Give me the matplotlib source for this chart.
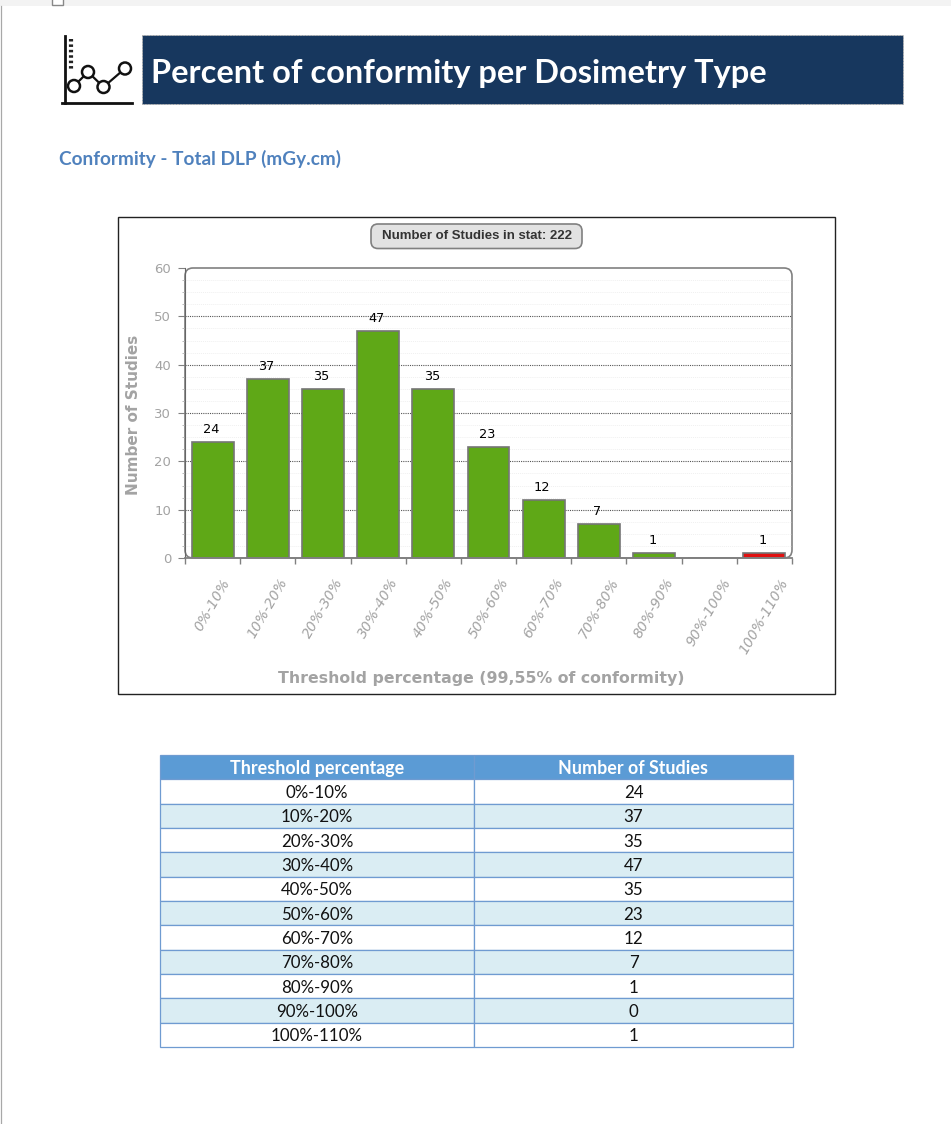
import matplotlib
matplotlib.use('Agg')
import numpy as np
import matplotlib.pyplot as plt
from matplotlib.patches import FancyBboxPatch, Rectangle, Circle
from matplotlib.transforms import Affine2D

W, H = 951, 1124

# Data
thresholds = ['0%-10%', '10%-20%', '20%-30%', '30%-40%', '40%-50%', '50%-60%',
              '60%-70%', '70%-80%', '80%-90%', '90%-100%', '100%-110%']
studies = [24, 37, 35, 47, 35, 23, 12, 7, 1, 0, 1]
bar_colors = ['#5fa817'] * 10 + ['#e01010']
table_head = ['Threshold percentage', 'Number of Studies']
title = 'Percent of conformity per Dosimetry Type'
subtitle = 'Conformity - Total DLP (mGy.cm)'
pill_text = 'Number of Studies in stat: 222'
y_label = 'Number of Studies'
x_label = 'Threshold percentage (99,55% of conformity)'

GREY = '#a3a3a3'


def px_axes(left, top, right, bottom):
    # axes placed with pixel coordinates of the page
    return fig.add_axes([left / W, 1 - bottom / H, (right - left) / W, (bottom - top) / H])


fig = plt.figure(figsize=(W / 100, H / 100), dpi=100, facecolor='white')

# Page layer, y pointing down in pixels
bg = fig.add_axes([0, 0, 1, 1])
bg.set_xlim(0, W)
bg.set_ylim(H, 0)
bg.axis('off')

bg.add_patch(Rectangle((0, 0), W, 6, fc='#f3f3f3', ec='none'))
bg.plot([1, 1], [6, H], color='#a8a8a8', lw=0.9)
bg.add_patch(Rectangle((52, -3), 11, 8, fc='white', ec='#888888', lw=1))

# Icon
bg.plot([64.5, 64.5], [36, 103], color='#111111', lw=2)
bg.plot([62, 132], [102.5, 102.5], color='#111111', lw=2)
bg.plot([71, 71], [39, 69], color='#222222', lw=3, ls=(0, (0.6, 0.7)))
icon_x = [74, 88, 103.5, 125]
icon_y = [86, 72, 87, 68.5]
bg.plot(icon_x, icon_y, color='#111111', lw=1.6)
for cx, cy in zip(icon_x, icon_y):
    bg.add_patch(Circle((cx, cy), 6, fc='white', ec='#111111', lw=1.8, zorder=3))

# Title banner
bg.add_patch(Rectangle((142, 35), 761, 69, fc='#17375e', ec='#b5b5b5', lw=0.7, ls=(0, (2, 1))))
bg.text(151, 73, title, color='white', fontsize=23.4, fontweight='bold', family='Lato', va='center')
bg.text(59, 159, subtitle, color='#4f81bd', fontsize=13.7, fontweight='bold', family='Lato', va='center')

# Chart frame
bg.add_patch(Rectangle((117.5, 217), 717, 477, fc='white', ec='#222222', lw=1))
bg.add_patch(FancyBboxPatch((371, 224), 211, 24.5, boxstyle='round,pad=0,rounding_size=7',
                            fc='#e2e2e2', ec='#808080', lw=1.2))
bg.text(476.5, 236, pill_text, color='#333333', fontsize=9.5, fontweight='bold',
        family='Liberation Sans', ha='center', va='center')

# Bar chart
ax = px_axes(185, 268, 792, 558)
ax.patch.set_alpha(0)
x = np.arange(len(thresholds))
ax.set_axisbelow(True)
ax.bar(x, studies, width=0.76, color=bar_colors, edgecolor='#757575', linewidth=1.2)
for xi, v in zip(x, studies):
    if v > 0:
        ax.annotate(str(v), (xi, v), xytext=(-1, 9), textcoords='offset points', ha='center',
                    va='center', fontsize=9.3, color='black')

ax.set_xlim(-0.5, 10.5)
ax.set_ylim(0, 60)
ax.set_yticks(np.arange(0, 61, 10))
ax.set_yticks(np.arange(0, 60, 2.5), minor=True)
ax.set_xticks(np.arange(-0.5, 11, 1))
ax.set_xticklabels([])
ax.set_xticks(x, thresholds, minor=True)
ax.tick_params(axis='x', which='major', length=4, color='#808080', width=1)
ax.tick_params(axis='x', which='minor', length=0, pad=13, labelsize=10, labelcolor=GREY,
               labelrotation=60)
for lab in ax.get_xticklabels(minor=True):
    lab.set_fontstyle('italic')
ax.tick_params(axis='y', which='major', length=5, color='#808080', labelsize=9.5, labelcolor=GREY, pad=5)
ax.tick_params(axis='y', which='minor', length=2, color='#b0b0b0')
ax.grid(True, axis='y', which='major', color='#555555', lw=0.8, ls=(0, (1, 1)))
ax.grid(True, axis='y', which='minor', color='#f0f0f0', lw=0.7, ls=(0, (1, 1)))
ygrid = ax.yaxis.get_gridlines()
ygrid[0].set_visible(False)
ygrid[-1].set_visible(False)
for side in ['top', 'right']:
    ax.spines[side].set_visible(False)
ax.spines['left'].set_color('#666666')
ax.spines['bottom'].set_color('#808080')
ax.spines['bottom'].set_linewidth(1.3)

# rounded outline of the plot area
bg.add_patch(FancyBboxPatch((185, 268), 607, 290, boxstyle='round,pad=0,rounding_size=8',
                            fc='none', ec='#808080', lw=1.2))

bg.text(133, 415, y_label, color=GREY, fontsize=11, fontweight='bold', rotation=90,
        ha='center', va='center')
bg.text(481, 679, x_label, color=GREY, fontsize=11.3, fontweight='bold', ha='center', va='center')

# Table
tax = px_axes(160, 755, 793, 1047)
tax.axis('off')
rows = [[t, str(s)] for t, s in zip(thresholds, studies)]
tbl = tax.table(cellText=rows, colLabels=table_head, bbox=[0, 0, 1, 1], cellLoc='center',
                colWidths=[314 / 633, 319 / 633])
tbl.auto_set_font_size(False)
for (r, c), cell in tbl.get_celld().items():
    cell.set_edgecolor('#6f9bd1')
    cell.set_linewidth(0.9)
    txt = cell.get_text()
    txt.set_fontfamily('Lato')
    txt.set_fontsize(12.2)
    txt.set_transform(Affine2D().translate(0, -1.5))
    if r == 0:
        cell.set_facecolor('#5b9bd5')
        txt.set_color('white')
        txt.set_fontweight('bold')
        txt.set_fontsize(12.9)
    else:
        cell.set_facecolor('white' if r % 2 else '#daedf3')
        txt.set_color('#111111')

fig.savefig('out.png', dpi=100)
